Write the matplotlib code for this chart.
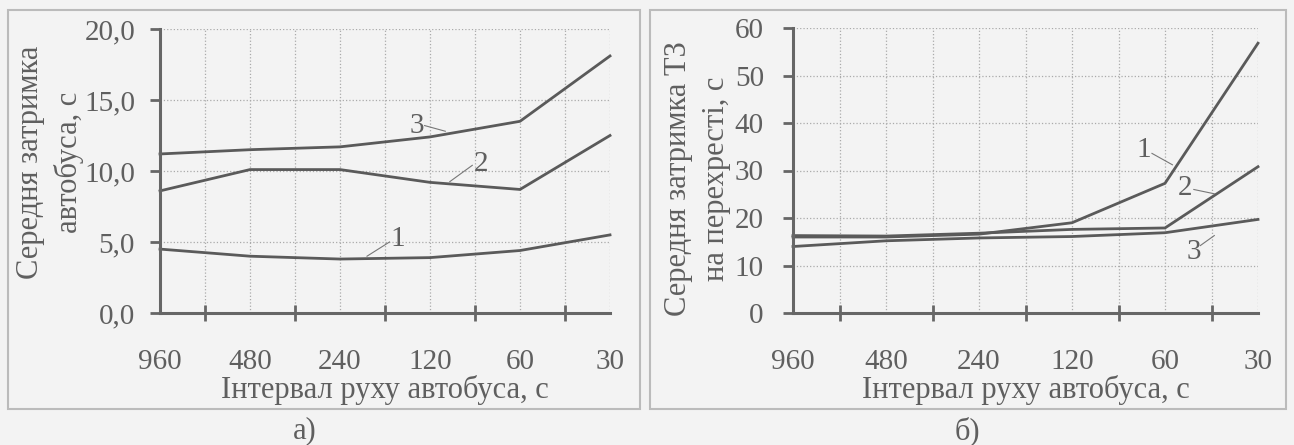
import matplotlib.pyplot as plt
from matplotlib.patches import Rectangle
from matplotlib.ticker import FixedLocator

# bus interval categories (s)
intervals = ["960", "480", "240", "120", "60", "30"]

# a) mean bus delay, s
bus_delay_1 = [4.5, 4.0, 3.8, 3.9, 4.4, 5.5]
bus_delay_2 = [8.6, 10.1, 10.1, 9.2, 8.7, 12.5]
bus_delay_3 = [11.2, 11.5, 11.7, 12.4, 13.5, 18.1]

# b) mean vehicle delay at the intersection, s
veh_delay_1 = [16.0, 16.0, 16.6, 19.0, 27.3, 56.8]
veh_delay_2 = [16.3, 16.2, 16.8, 17.6, 17.9, 30.8]
veh_delay_3 = [14.0, 15.2, 15.8, 16.1, 16.9, 19.7]

plt.rcParams['font.family'] = ['Liberation Serif', 'DejaVu Serif']
txt = '#5f5f5f'
line_c = '#5a5a5a'
fs_tick = 21
fs_lab = 22

fig = plt.figure(figsize=(12.94, 4.45), dpi=100, facecolor='#f3f3f3')

# panel frames
for x0, x1 in [(8, 640), (650, 1286)]:
    fig.patches.append(Rectangle((x0 / 1294, 1 - 409 / 445), (x1 - x0) / 1294, 399 / 445,
                                 transform=fig.transFigure, fill=False,
                                 edgecolor='#bbbbbb', linewidth=1.5))

ax1 = fig.add_axes([160 / 1294, 1 - 313 / 445, 450 / 1294, 284 / 445])
ax2 = fig.add_axes([793 / 1294, 1 - 313 / 445, 465 / 1294, 285 / 445])

x = list(range(len(intervals)))


def style(ax, ymax, ystep, fmt, ypad):
    ax.set_facecolor('none')
    ax.set_xlim(0, 5)
    ax.set_ylim(0, ymax)
    for s in ['top', 'right']:
        ax.spines[s].set_visible(False)
    for s in ['left', 'bottom']:
        ax.spines[s].set_color('#666666')
        ax.spines[s].set_linewidth(2.2)
    ax.set_xticks(x)
    ax.set_xticklabels(intervals)
    ax.xaxis.set_minor_locator(FixedLocator([0.5, 1.5, 2.5, 3.5, 4.5, 5.0]))
    yt = [i * ystep for i in range(int(round(ymax / ystep)) + 1)]
    ax.set_yticks(yt)
    ax.set_yticklabels([fmt(v) for v in yt])
    ax.tick_params(axis='x', which='major', length=0, pad=26, labelsize=fs_tick, labelcolor=txt)
    ax.tick_params(axis='x', which='minor', direction='inout', length=12, width=2, color='#666666')
    ax.tick_params(axis='y', direction='out', length=7, width=2, color='#666666',
                   labelsize=fs_tick, labelcolor=txt, pad=ypad)
    ax.grid(True, which='both', axis='x', linestyle=':', color='#aaaaaa', linewidth=0.9)
    ax.grid(True, which='major', axis='y', linestyle=':', color='#aaaaaa', linewidth=0.9)
    ax.set_axisbelow(True)
    ax.set_xlabel("Інтервал руху автобуса, с", fontsize=fs_lab, color=txt, labelpad=0)


style(ax1, 20, 5, lambda v: f"{v:.1f}".replace('.', ','), 11)
style(ax2, 60, 10, lambda v: f"{v:.0f}", 14)

for ys in [bus_delay_1, bus_delay_2, bus_delay_3]:
    ax1.plot(x, ys, color=line_c, linewidth=2.0, clip_on=False)
for ys in [veh_delay_1, veh_delay_2, veh_delay_3]:
    ax2.plot(x, ys, color=line_c, linewidth=2.0, clip_on=False)

ax1.text(-0.245, 0.53, "Середня затримка\nавтобуса, с", transform=ax1.transAxes,
         rotation=90, ha='center', va='center', fontsize=fs_lab, color=txt,
         linespacing=1.4)
ax2.text(-0.205, 0.47, "Середня затримка ТЗ\nна перехресті, с", transform=ax2.transAxes,
         rotation=90, ha='center', va='center', fontsize=fs_lab, color=txt,
         linespacing=1.4)

# curve labels with leader lines
lead = dict(color='#777777', linewidth=0.8)
ax1.plot([2.94, 3.17], [13.2, 12.8], **lead)
ax1.text(2.85, 13.2, "3", fontsize=fs_tick, color=txt, ha='center', va='center')
ax1.plot([3.47, 3.22], [10.4, 9.25], **lead)
ax1.text(3.57, 10.5, "2", fontsize=fs_tick, color=txt, ha='center', va='center')
ax1.plot([2.55, 2.30], [5.0, 4.0], **lead)
ax1.text(2.64, 5.2, "1", fontsize=fs_tick, color=txt, ha='center', va='center')

ax2.plot([3.86, 4.08], [33.6, 31.2], **lead)
ax2.text(3.77, 34.3, "1", fontsize=fs_tick, color=txt, ha='center', va='center')
ax2.plot([4.31, 4.53], [26.0, 25.1], **lead)
ax2.text(4.22, 26.4, "2", fontsize=fs_tick, color=txt, ha='center', va='center')
ax2.plot([4.38, 4.53], [14.2, 16.3], **lead)
ax2.text(4.31, 12.8, "3", fontsize=fs_tick, color=txt, ha='center', va='center')

fig.text(305 / 1294, 1 - 431 / 445, "а)", fontsize=fs_lab, color=txt, ha='center', va='center')
fig.text(967 / 1294, 1 - 431 / 445, "б)", fontsize=fs_lab, color=txt, ha='center', va='center')

fig.savefig("out.png", dpi=100, facecolor=fig.get_facecolor())
